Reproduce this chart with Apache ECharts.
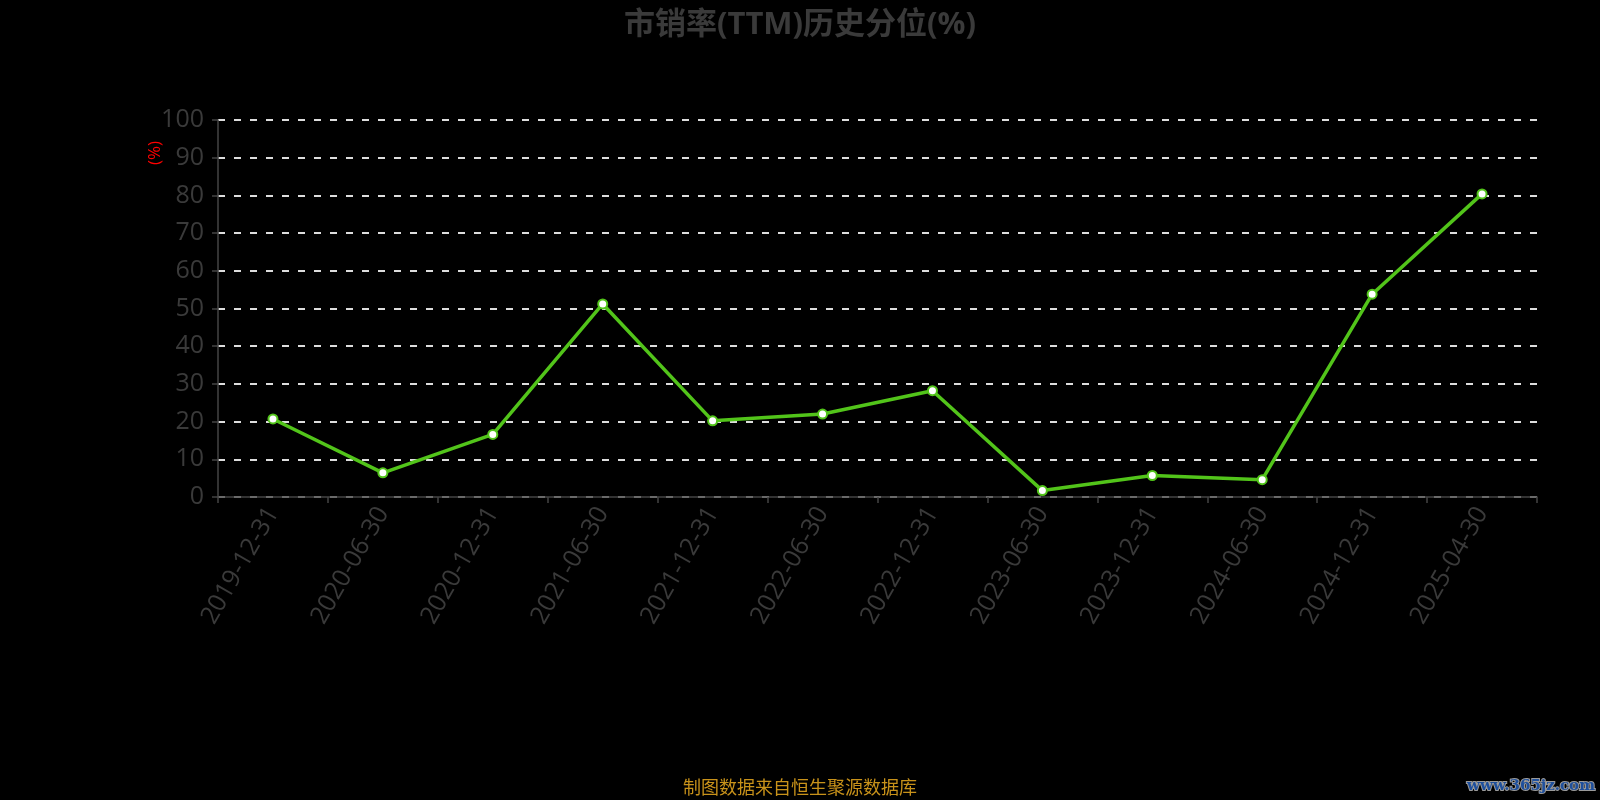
<!DOCTYPE html>
<html><head><meta charset="utf-8">
<script src="https://cdn.jsdelivr.net/npm/echarts@6/dist/echarts.min.js"></script>
<style>html,body{margin:0;padding:0;background:#000;}#c{width:1600px;height:800px;}</style>
</head><body><div id="c"></div>
<script>
const categories = ['2019-12-31','2020-06-30','2020-12-31','2021-06-30','2021-12-31','2022-06-30','2022-12-31','2023-06-30','2023-12-31','2024-06-30','2024-12-31','2025-04-30'];
const values = [20.7, 6.4, 16.6, 51.2, 20.2, 22.0, 28.2, 1.7, 5.7, 4.6, 53.8, 80.4];
const yTicks = {min: 0, max: 100, interval: 10};
const titleText = '市销率(TTM)历史分位(%)';
const unitText = '(%)';
const sourceText = '制图数据来自恒生聚源数据库';
const watermarkText = 'www.365jz.com';

const chart = echarts.init(document.getElementById('c'));
chart.setOption({
  backgroundColor: '#000',
  animation: false,
  title: {
    text: titleText, left: 'center', top: 5,
    textStyle: {color: '#3a3a3a', fontSize: 31, fontWeight: 'bold', fontFamily: 'Open Sans, Noto Sans CJK SC'}
  },
  grid: {left: 218, right: 63, top: 120, bottom: 303},
  xAxis: {
    type: 'category', data: categories, boundaryGap: true,
    axisLine: {lineStyle: {color: '#444', width: 1.5}},
    axisTick: {show: true, length: 6, lineStyle: {color: '#444', width: 1.5}},
    axisLabel: {rotate: 60, color: '#3a3a3a', fontSize: 25, fontFamily: 'Open Sans', margin: 12},
    splitLine: {show: false}
  },
  yAxis: {
    type: 'value', min: yTicks.min, max: yTicks.max, interval: yTicks.interval,
    axisLine: {show: true, lineStyle: {color: '#444', width: 1.5}},
    axisTick: {show: true, length: 6, lineStyle: {color: '#444', width: 1.5}},
    axisLabel: {color: '#3a3a3a', fontSize: 25, fontFamily: 'Open Sans', margin: 14},
    splitLine: {show: true, lineStyle: {color: '#dddddd', type: [7, 9], width: 2}}
  },
  series: [{
    type: 'line', data: values,
    lineStyle: {color: '#52c41a', width: 3.5},
    itemStyle: {color: '#fff', borderColor: '#52c41a', borderWidth: 2},
    symbol: 'circle', symbolSize: 9, showSymbol: true
  }],
  graphic: [
    {type: 'text', left: 147, top: 141, rotation: Math.PI / 2,
     style: {text: unitText, fill: '#ff0000', fontSize: 17, fontFamily: 'Open Sans'}},
    {type: 'text', left: 'center', top: 778,
     style: {text: sourceText, fill: '#c8921a', fontSize: 18, fontFamily: 'Noto Sans CJK SC'}},
    {type: 'text', right: 4, top: 778,
     style: {text: watermarkText, fill: '#1e4f9c', stroke: '#9a9a9a', lineWidth: 2, fontSize: 15, fontWeight: 'bold', fontFamily: 'DejaVu Serif'}}
  ]
});
</script></body></html>
